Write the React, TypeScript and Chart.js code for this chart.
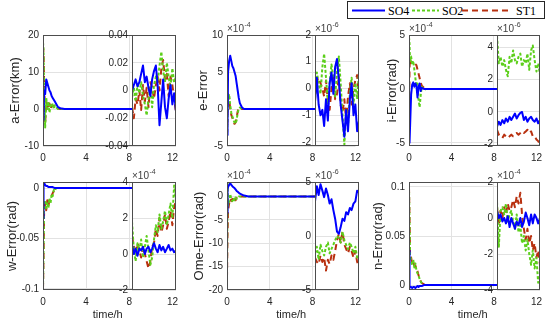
import React, { useEffect, useRef } from "react";
import { Chart, registerables } from "chart.js";
Chart.register(...registerables);

// ---------------- data ----------------
const SERIES_NAMES = ["SO4", "SO2", "ST1"];
const T_MAIN = [0, 0.05, 0.1, 0.2, 0.3, 0.4, 0.5, 0.6, 0.7, 0.8, 0.9, 1.0, 1.1, 1.2, 1.4, 1.6, 2, 4, 8, 12];
const T_INSET = [8, 8.17, 8.33, 8.5, 8.67, 8.83, 9, 9.17, 9.33, 9.5, 9.67, 9.83, 10, 10.17, 10.33, 10.5, 10.67, 10.83, 11, 11.17, 11.33, 11.5, 11.67, 11.83, 12];
const MAIN_X_TICKS = [0, 4, 8, 12];

// a-Error (km)
const A_MAIN_SO4 = [0, -3, 5, 4, 8, 7, 6, 5, 4.5, 3.5, 3, 2.5, 2, 1.5, 0.5, 0.2, 0, 0, 0, 0];
const A_MAIN_SO2 = [18, 16, 6, -5, 3, 0, 2, -1, 1, 0.5, 1.5, 0, 1, 0.5, 0, 0, 0, 0, 0, 0];
const A_MAIN_ST1 = [17, 15, 8, -4, 2, 1, 0, 1.5, 0, 1, 1, 0.5, 0.3, 0.2, 0.1, 0, 0, 0, 0, 0];
const A_INSET_SO4 = [0, 0.004, 0.008, 0.003, 0.006, 0.012, 0.018, 0.006, 0.010, 0.002, -0.004, 0.008, 0.014, 0.018, 0.004, -0.025, -0.008, 0.008, -0.012, -0.020, -0.006, 0.004, -0.010, -0.002, -0.015];
const A_INSET_SO2 = [-0.005, 0.002, -0.008, 0.004, -0.002, 0.006, -0.004, -0.010, -0.018, -0.006, 0.002, -0.012, 0.004, 0.010, 0.006, 0.018, 0.028, 0.014, 0.006, 0.020, 0.010, 0.002, 0.016, 0.006, 0.010];
const A_INSET_ST1 = [-0.012, -0.020, -0.006, -0.010, 0.000, -0.014, 0.004, -0.008, 0.002, -0.012, 0.006, 0.002, -0.006, 0.004, 0.010, 0.000, 0.016, 0.022, 0.008, 0.012, -0.004, 0.010, 0.004, -0.006, -0.016];
const A_MAIN_TICKS = [-10, 0, 10, 20];
const A_INSET_TICKS = [-0.04, -0.02, 0, 0.02, 0.04];

// e-Error (x1e-4 main, x1e-6 inset)
const E_MAIN_SO4 = [-3.5, -2, 5, 6.5, 7.2, 6.5, 5.8, 5.5, 5, 4.5, 3.5, 2.5, 1.5, 0.8, 0.2, 0, 0, 0, 0, 0];
const E_MAIN_SO2 = [-3.8, -1, 1.5, 2, 0.5, -0.5, -1, -1.5, -1.8, -2, -1.5, -0.5, 0, 0.2, 0, 0, 0, 0, 0, 0];
const E_MAIN_ST1 = [-3.5, -0.5, 2, 1.5, 0, -0.8, -1.2, -1.6, -2, -1.8, -1.2, -0.3, 0.1, 0, 0, 0, 0, 0, 0, 0];
const E_INSET_SO4 = [-0.5, 0.4, -0.6, -1.0, -0.8, -1.4, -0.4, -1.2, 0.2, 0.6, -0.2, 0.8, 1.1, 0.3, -0.6, -1.2, -1.8, -0.8, -1.6, -0.4, 0.2, -1.0, -0.6, -1.6, -1.2];
const E_INSET_SO2 = [-0.4, 0.6, 0.2, -0.2, 0.8, 1.3, 0.4, -0.6, 0.2, 0.9, 0.4, -0.3, 0.6, 1.2, 0.2, -1.0, -2.1, -0.8, -1.4, -0.2, 0.4, -0.6, 0.2, -0.4, 0.6];
const E_INSET_ST1 = [-0.2, 0.3, 0.4, 0.2, 0.0, -0.3, 0.3, -0.5, -0.8, 0.0, 0.4, -0.4, -0.2, 0.5, -0.6, -0.9, -0.4, -1.2, -0.3, 0.2, -0.6, 0.0, 0.3, 0.5, -0.5];
const E_MAIN_TICKS = [-5, 0, 5, 10];
const E_INSET_TICKS = [-2, -1, 0, 1, 2];

// i-Error (x1e-4 main, x1e-6 inset)
const I_MAIN_SO4 = [-3, -5, -3.5, -0.5, 0.4, 0.6, 0.2, 0.5, 0.3, -0.8, 0.2, 0.5, -0.2, 0.1, 0, 0, 0, 0, 0, 0];
const I_MAIN_SO2 = [4.8, 4.2, 2.5, 3, 2.2, 2.6, 1.8, 1, 0.3, 0.5, -1, -1.7, -0.6, 0.2, -0.1, 0, 0, 0, 0, 0];
const I_MAIN_ST1 = [-4.5, 2, 2.8, 2.4, 2.5, 2.3, 2.4, 2.3, 2.2, 1.8, 1.4, 1, 0.6, 0.3, 0.1, 0, 0, 0, 0, 0];
const I_INSET_SO4 = [-0.9, -0.6, -0.8, -0.5, -0.7, -0.4, -0.6, -0.3, -0.5, -0.3, -0.1, -0.4, -0.2, -0.05, 0.0, -0.5, -0.3, -0.6, -0.4, -0.3, -0.5, -0.6, -0.4, -0.7, -0.5];
const I_INSET_SO2 = [4.7, 3.0, 3.4, 2.8, 3.2, 2.6, 2.2, 3.4, 3.0, 3.8, 3.2, 3.0, 3.4, 3.6, 2.8, 3.2, 3.0, 3.6, 2.6, 3.8, 4.1, 3.2, 2.5, 3.0, 2.3];
const I_INSET_ST1 = [-1.1, -1.4, -1.5, -1.6, -1.4, -1.5, -1.6, -1.5, -1.4, -1.5, -1.4, -1.3, -1.4, -1.3, -1.2, -1.3, -1.2, -1.1, -1.3, -1.2, -1.5, -1.5, -1.7, -1.8, -2.0];
const I_MAIN_TICKS = [-5, 0, 5];
const I_INSET_TICKS = [-2, 0, 2, 4];

// w-Error (rad main, x1e-4 inset)
const W_MAIN_SO4 = [-0.03, 0.004, 0.005, 0.003, 0.002, 0.002, 0.001, 0.001, 0.001, 0.001, 0.001, 0.0005, 0, 0, 0, 0, 0, 0, 0, 0];
const W_MAIN_SO2 = [-0.1, -0.06, -0.02, -0.012, -0.02, -0.014, -0.02, -0.01, -0.015, -0.006, -0.008, -0.002, -0.003, 0, 0, 0, 0, 0, 0, 0];
const W_MAIN_ST1 = [-0.1, -0.07, -0.025, -0.015, -0.022, -0.012, -0.018, -0.012, -0.01, -0.008, -0.005, -0.003, -0.001, 0, 0, 0, 0, 0, 0, 0];
const W_INSET_SO4 = [0.5, 0.0, 0.3, -0.1, 0.3, 0.2, 0.4, 0.0, 0.3, 0.4, 0.1, 0.3, 0.6, 0.3, 0.1, 0.5, 0.2, 0.4, 0.1, 0.3, 0.5, 0.2, 0.3, 0.1, 0.2];
const W_INSET_SO2 = [1.8, 0.2, -0.4, 0.6, 0.2, 0.8, -0.2, 0.4, 1.0, 0.2, -0.6, -0.2, 0.8, 1.6, 1.2, 2.2, 1.4, 1.8, 2.4, 1.6, 2.2, 2.8, 2.0, 3.8, 3.0];
const W_INSET_ST1 = [1.0, 0.4, 0.0, 0.6, 0.2, -0.2, 0.4, 0.0, -0.4, -0.8, -0.4, 0.4, 0.6, 1.4, 1.0, 2.0, 1.2, 1.6, 2.2, 1.4, 1.8, 2.4, 1.6, 2.6, 3.0];
const W_MAIN_TICKS = [-0.1, -0.05, 0];
const W_INSET_TICKS = [-2, 0, 2, 4];

// Ome-Error (x1e-4 main, x1e-6 inset)
const O_MAIN_SO4 = [-3.5, 1.5, 2, 2.5, 2.8, 2.5, 2.2, 2, 1.8, 1.5, 1.2, 1, 0.8, 0.6, 0.4, 0.2, 0, 0, 0, 0];
const O_MAIN_SO2 = [-16, 3, -2, -1, 0.5, -0.5, -1, -0.3, -0.8, -0.2, -0.5, -0.2, 0, 0, 0, 0, 0, 0, 0, 0];
const O_MAIN_ST1 = [-17.5, -8, -3, -1.5, -0.5, -1, -0.5, -1.2, -0.6, -0.8, -0.3, -0.4, -0.1, 0, 0, 0, 0, 0, 0, 0];
const O_INSET_SO4 = [3.2, 4.6, 3.8, 4.8, 4.2, 3.6, 4.4, 3.8, 3.0, 3.4, 2.4, 1.6, 0.4, 0.2, 0.8, 1.6, 1.4, 2.2, 2.0, 2.6, 2.4, 3.0, 3.2, 4.2, 4.0];
const O_INSET_SO2 = [-1.6, -1.0, -2.2, -0.8, -1.4, -1.8, -1.0, -0.6, -1.6, -1.2, -0.8, -0.4, 0.0, -0.2, -0.6, 0.4, -0.4, -0.8, -1.2, -0.6, -1.0, -1.6, -1.0, -2.0, -2.2];
const O_INSET_ST1 = [-2.0, -2.4, -2.6, -1.8, -2.4, -2.0, -3.2, -2.2, -2.6, -1.8, -2.2, -1.4, -0.4, 0.2, -0.6, 0.4, -0.8, -1.2, -1.6, -1.0, -1.4, -2.0, -1.4, -2.4, -2.8];
const O_MAIN_TICKS = [-20, -15, -10, -5, 0];
const O_INSET_TICKS = [-5, 0, 5];

// n-Error (rad main, x1e-4 inset)
const N_MAIN_SO4 = [0.035, -0.003, -0.002, -0.002, -0.003, -0.002, -0.002, -0.003, -0.002, -0.001, -0.002, -0.001, -0.001, -0.001, 0, 0, 0, 0, 0, 0];
const N_MAIN_SO2 = [0.1, 0.06, 0.03, 0.025, 0.02, 0.026, 0.018, 0.022, 0.015, 0.012, 0.01, 0.006, 0.004, 0.002, 0, 0, 0, 0, 0, 0];
const N_MAIN_ST1 = [0.1, 0.07, 0.032, 0.028, 0.022, 0.024, 0.02, 0.02, 0.016, 0.014, 0.01, 0.007, 0.004, 0.002, 0.001, 0, 0, 0, 0, 0];
const N_INSET_SO4 = [0.4, 0.0, 0.2, -0.2, 0.0, -0.3, 0.1, -0.5, 0.0, -0.3, -0.6, -0.2, -0.4, 0.0, -0.5, -0.2, 0.3, 0.0, -0.4, 0.2, -0.3, 0.2, 0.0, -0.3, 0.0];
const N_INSET_SO2 = [0.9, -1.6, 0.4, 0.6, 0.2, 0.8, -0.2, 0.2, 0.4, -0.2, -0.6, 0.2, -0.8, -0.4, -1.4, -1.0, -1.8, -1.2, -2.0, -2.6, -1.8, -2.8, -2.2, -3.6, -3.2];
const N_INSET_ST1 = [0.6, -0.4, 0.4, 0.0, 0.6, 0.2, 0.8, 0.4, 0.6, 1.0, 0.6, 1.2, 0.8, 1.4, 0.2, -0.6, -1.2, -0.6, -1.4, -1.0, -1.8, -1.4, -2.2, -1.8, -2.6];
const N_MAIN_TICKS = [0, 0.05, 0.1];
const N_INSET_TICKS = [-4, -2, 0, 2];

// ---------------- styles / layout ----------------
const COLORS = ["#0000ff", "#5ccf1a", "#b8300f"];
const DASHES: number[][] = [[], [3, 2], [6, 4]];
const GRID = "#e2e2e2";
const TEXT = "#262626";
const SANS = '"Liberation Sans", Arial, sans-serif';
const SERIF = '"Liberation Serif", "Times New Roman", serif';

const ROWS = [
  { top: 35, bottom: 146 },
  { top: 182, bottom: 290 },
];
const COLS = [
  { left: 43, split: 132, right: 176 },
  { left: 227, split: 315, right: 359 },
  { left: 409, split: 497, right: 540 },
];

type Panel = {
  row: number; col: number; title: string; titleDx: number;
  mainY: [number, number]; mainTicks: number[]; mainExpo: string | null; main: number[][];
  insetY: [number, number]; insetTicks: number[]; insetExpo: string | null; inset: number[][];
};

const PANELS: Panel[] = [
  { row: 0, col: 0, title: "a-Error(km)", titleDx: 28, mainY: [-10, 20], mainTicks: A_MAIN_TICKS, mainExpo: null,
    main: [A_MAIN_SO4, A_MAIN_SO2, A_MAIN_ST1], insetY: [-0.04, 0.04], insetTicks: A_INSET_TICKS, insetExpo: null,
    inset: [A_INSET_SO4, A_INSET_SO2, A_INSET_ST1] },
  { row: 0, col: 1, title: "e-Error", titleDx: 24, mainY: [-5, 10], mainTicks: E_MAIN_TICKS, mainExpo: "-4",
    main: [E_MAIN_SO4, E_MAIN_SO2, E_MAIN_ST1], insetY: [-2.15, 2], insetTicks: E_INSET_TICKS, insetExpo: "-6",
    inset: [E_INSET_SO4, E_INSET_SO2, E_INSET_ST1] },
  { row: 0, col: 2, title: "i-Error(rad)", titleDx: 17, mainY: [-5.3, 5], mainTicks: I_MAIN_TICKS, mainExpo: "-4",
    main: [I_MAIN_SO4, I_MAIN_SO2, I_MAIN_ST1], insetY: [-2.1, 4.75], insetTicks: I_INSET_TICKS, insetExpo: "-6",
    inset: [I_INSET_SO4, I_INSET_SO2, I_INSET_ST1] },
  { row: 1, col: 0, title: "w-Error(rad)", titleDx: 31, mainY: [-0.101, 0.006], mainTicks: W_MAIN_TICKS, mainExpo: null,
    main: [W_MAIN_SO4, W_MAIN_SO2, W_MAIN_ST1], insetY: [-2, 4], insetTicks: W_INSET_TICKS, insetExpo: "-4",
    inset: [W_INSET_SO4, W_INSET_SO2, W_INSET_ST1] },
  { row: 1, col: 1, title: "Ome-Error(rad)", titleDx: 28, mainY: [-20, 3.1], mainTicks: O_MAIN_TICKS, mainExpo: "-4",
    main: [O_MAIN_SO4, O_MAIN_SO2, O_MAIN_ST1], insetY: [-5, 5], insetTicks: O_INSET_TICKS, insetExpo: "-6",
    inset: [O_INSET_SO4, O_INSET_SO2, O_INSET_ST1] },
  { row: 1, col: 2, title: "n-Error(rad)", titleDx: 31, mainY: [-0.005, 0.105], mainTicks: N_MAIN_TICKS, mainExpo: null,
    main: [N_MAIN_SO4, N_MAIN_SO2, N_MAIN_ST1], insetY: [-4, 2], insetTicks: N_INSET_TICKS, insetExpo: "-4",
    inset: [N_INSET_SO4, N_INSET_SO2, N_INSET_ST1] },
];

type Spec = {
  key: string; x: number; y: number; w: number; h: number;
  padL: number; padR: number; padT: number; padB: number;
  xMin: number; xMax: number; xTicks: number[] | null;
  yMin: number; yMax: number; yTicks: number[];
  t: number[]; series: number[][];
  white: boolean; expo: string | null; yTitle: string | null; titleDx: number; xTitle: string | null;
};

function buildSpecs(): Spec[] {
  const mains: Spec[] = [];
  const insets: Spec[] = [];
  const PADL = 44, PADR = 8, PADT = 16;
  const IPADL = 34, IPADR = 3, IPADB = 16;
  PANELS.forEach((p, i) => {
    const r = ROWS[p.row];
    const c = COLS[p.col];
    const padB = p.row === 0 ? 20 : 34;
    mains.push({
      key: "m" + i, x: c.left - PADL, y: r.top - PADT,
      w: c.right - c.left + PADL + PADR, h: r.bottom - r.top + PADT + padB,
      padL: PADL, padR: PADR, padT: PADT, padB,
      xMin: 0, xMax: 12, xTicks: MAIN_X_TICKS,
      yMin: p.mainY[0], yMax: p.mainY[1], yTicks: p.mainTicks,
      t: T_MAIN, series: p.main, white: false, expo: p.mainExpo,
      yTitle: p.title, titleDx: p.titleDx, xTitle: p.row === 1 ? "time/h" : null,
    });
    insets.push({
      key: "i" + i, x: c.split - IPADL, y: r.top - PADT,
      w: c.right - c.split + IPADL + IPADR, h: r.bottom - r.top + PADT + IPADB,
      padL: IPADL, padR: IPADR, padT: PADT, padB: IPADB,
      xMin: 8, xMax: 12, xTicks: null,
      yMin: p.insetY[0], yMax: p.insetY[1], yTicks: p.insetTicks,
      t: T_INSET, series: p.inset, white: true, expo: p.insetExpo,
      yTitle: null, titleDx: 0, xTitle: null,
    });
  });
  return [...mains, ...insets];
}

function buildChart(canvas: HTMLCanvasElement, o: Spec) {
  const decor = {
    id: "decor",
    beforeDraw(chart: any) {
      if (!o.white) return;
      const { left, top, right, bottom } = chart.chartArea;
      const ctx = chart.ctx;
      ctx.save();
      ctx.fillStyle = "#ffffff";
      ctx.fillRect(left, top, right - left, bottom - top);
      ctx.restore();
    },
    afterDraw(chart: any) {
      const { left, top, right, bottom } = chart.chartArea;
      const ctx = chart.ctx;
      ctx.save();
      ctx.strokeStyle = "#4d4d4d";
      ctx.lineWidth = 1;
      ctx.setLineDash([]);
      ctx.strokeRect(left + 0.5, top + 0.5, right - left - 1, bottom - top - 1);
      if (o.expo) {
        ctx.fillStyle = "#404040";
        ctx.textAlign = "left";
        ctx.textBaseline = "alphabetic";
        ctx.font = `10px ${SANS}`;
        ctx.fillText("×10", left, top - 3);
        const w = ctx.measureText("×10").width;
        ctx.font = `7px ${SANS}`;
        ctx.fillText(o.expo, left + w + 0.5, top - 8);
      }
      if (o.yTitle) {
        ctx.save();
        ctx.translate(left - o.titleDx, (top + bottom) / 2);
        ctx.rotate(-Math.PI / 2);
        ctx.font = `13px ${SANS}`;
        ctx.fillStyle = TEXT;
        ctx.textAlign = "center";
        ctx.textBaseline = "middle";
        ctx.fillText(o.yTitle, 0, 0);
        ctx.restore();
      }
      if (o.xTitle) {
        ctx.font = `11px ${SANS}`;
        ctx.fillStyle = TEXT;
        ctx.textAlign = "center";
        ctx.textBaseline = "middle";
        ctx.fillText(o.xTitle, (left + right) / 2, bottom + 25);
      }
      ctx.restore();
    },
  };

  const tickFont = { family: SANS, size: 10 };
  return new Chart(canvas, {
    type: "line",
    data: {
      datasets: o.series.map((vals, i) => ({
        label: SERIES_NAMES[i],
        data: o.t.map((t, k) => ({ x: t, y: vals[k] })),
        borderColor: COLORS[i],
        backgroundColor: COLORS[i],
        borderWidth: 2,
        borderDash: DASHES[i],
        borderJoinStyle: "round" as const,
        pointRadius: 0,
        fill: false,
        tension: 0,
        clip: 0 as any,
      })),
    },
    options: {
      responsive: false,
      maintainAspectRatio: false,
      animation: false,
      devicePixelRatio: 1,
      events: [],
      layout: { padding: { left: 0, right: o.padR, top: o.padT, bottom: o.xTicks ? 0 : o.padB } },
      plugins: { legend: { display: false }, tooltip: { enabled: false }, title: { display: false } },
      scales: {
        x: {
          type: "linear",
          min: o.xMin,
          max: o.xMax,
          display: !!o.xTicks,
          afterBuildTicks: (s: any) => {
            if (o.xTicks) s.ticks = o.xTicks.map((v) => ({ value: v }));
          },
          afterFit: (s: any) => {
            s.height = o.xTicks ? o.padB : 0;
          },
          grid: { color: GRID, drawTicks: false, lineWidth: 1 },
          border: { display: false },
          ticks: {
            font: tickFont, color: TEXT, padding: 6, maxRotation: 0, autoSkip: false,
            callback: (v: any) => String(v),
          },
        },
        y: {
          type: "linear",
          min: o.yMin,
          max: o.yMax,
          afterBuildTicks: (s: any) => {
            s.ticks = o.yTicks.map((v) => ({ value: v }));
          },
          afterFit: (s: any) => {
            s.width = o.padL;
          },
          grid: { color: GRID, drawTicks: false, lineWidth: 1 },
          border: { display: false },
          ticks: { font: tickFont, color: TEXT, padding: 4, autoSkip: false, callback: (v: any) => String(v) },
        },
      },
    } as any,
    plugins: [decor],
  });
}

function ChartCanvas({ spec }: { spec: Spec }) {
  const ref = useRef<HTMLCanvasElement>(null);
  useEffect(() => {
    const chart = buildChart(ref.current as HTMLCanvasElement, spec);
    return () => chart.destroy();
  }, []);
  return (
    <canvas
      ref={ref}
      width={spec.w}
      height={spec.h}
      style={{ position: "absolute", left: spec.x, top: spec.y, width: spec.w, height: spec.h }}
    />
  );
}

function Legend() {
  const items = [
    { x1: 5, x2: 38, tx: 41 },
    { x1: 65, x2: 92, tx: 95 },
    { x1: 115, x2: 165, tx: 169 },
  ];
  return (
    <svg
      width={198}
      height={18}
      style={{ position: "absolute", left: 347, top: 1 }}
    >
      <rect x={0.5} y={0.5} width={197} height={17} fill="#ffffff" stroke="#262626" strokeWidth={1} />
      {items.map((it, i) => (
        <g key={i}>
          <line
            x1={it.x1}
            x2={it.x2}
            y1={9.5}
            y2={9.5}
            stroke={COLORS[i]}
            strokeWidth={2}
            strokeDasharray={DASHES[i].length ? DASHES[i].join(" ") : undefined}
          />
          <text x={it.tx} y={13.5} fontFamily={SERIF} fontSize={12} fill="#000">
            {SERIES_NAMES[i]}
          </text>
        </g>
      ))}
    </svg>
  );
}

export default function App() {
  const specs = buildSpecs();
  return (
    <div style={{ position: "absolute", left: 0, top: 0, width: 550, height: 324, background: "#ffffff", overflow: "hidden" }}>
      {specs.map((s) => (
        <ChartCanvas key={s.key} spec={s} />
      ))}
      <Legend />
    </div>
  );
}
